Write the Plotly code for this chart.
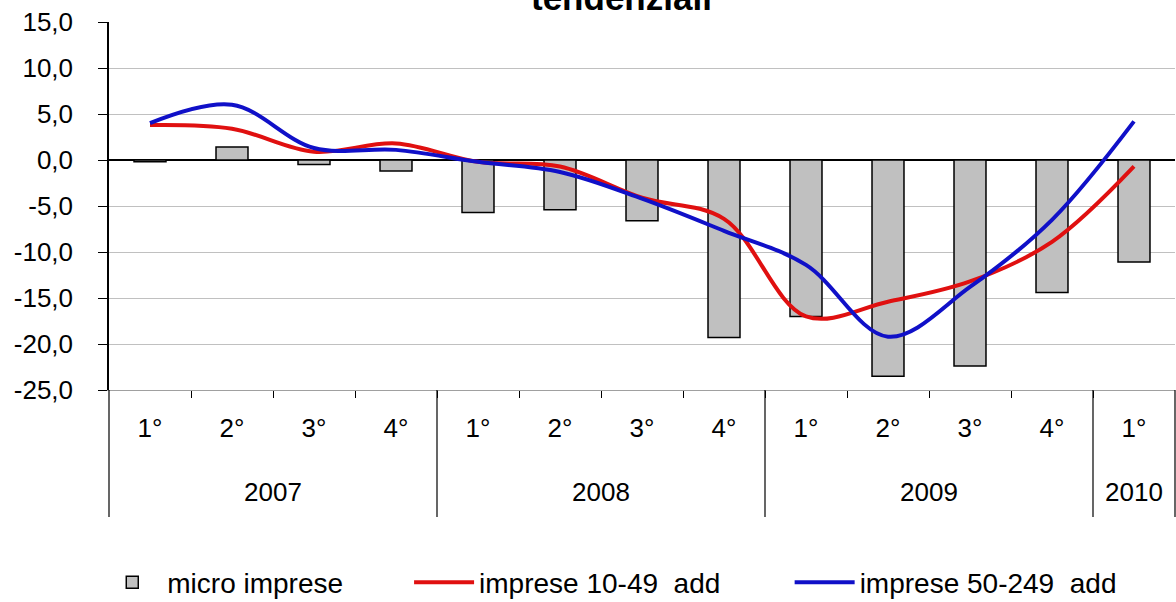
import plotly.graph_objects as go

years = ["2007"] * 4 + ["2008"] * 4 + ["2009"] * 4 + ["2010"]
quarters = ["1°", "2°", "3°", "4°", "1°", "2°", "3°", "4°", "1°", "2°", "3°", "4°", "1°"]

micro = [-0.2, 1.4, -0.5, -1.2, -5.7, -5.4, -6.6, -19.3, -17.0, -23.5, -22.4, -14.4, -11.1]
imp_10_49 = [3.8, 3.4, 0.9, 1.8, -0.2, -0.7, -4.1, -6.4, -17.0, -15.4, -13.2, -8.9, -0.7]
imp_50_249 = [4.0, 6.0, 1.3, 1.1, -0.2, -1.3, -4.2, -7.7, -11.4, -19.2, -13.8, -6.5, 4.2]

y_ticks = [15, 10, 5, 0, -5, -10, -15, -20, -25]
y_ticktext = ["15,0", "10,0", "5,0", "0,0", "-5,0", "-10,0", "-15,0", "-20,0", "-25,0"]

FONT = "Liberation Sans, Arial, sans-serif"
n = len(quarters)
idx = list(range(n))

# year groups (derived from the category arrays)
groups = []
for i, yr in enumerate(years):
    if not groups or groups[-1][0] != yr:
        groups.append([yr, i, i])
    else:
        groups[-1][2] = i

fig = go.Figure()
fig.add_trace(go.Bar(
    x=idx, y=micro, name="micro imprese",
    marker=dict(color="#c0c0c0", line=dict(color="#000000", width=1.5)),
    legend="legend",
))
fig.add_trace(go.Scatter(
    x=idx, y=imp_10_49, name="imprese 10-49  add", mode="lines",
    line=dict(color="#e01010", width=4, shape="spline", smoothing=1.0),
    legend="legend2",
))
fig.add_trace(go.Scatter(
    x=idx, y=imp_50_249, name="imprese 50-249  add", mode="lines",
    line=dict(color="#1010c8", width=4, shape="spline", smoothing=1.0),
    legend="legend3",
))

PLOT_H = 368.0
def py(px_below_axis):
    return -px_below_axis / PLOT_H

annotations = [dict(
    text="<b>tendenziali</b>", xref="x domain", yref="paper",
    x=0.481, y=1.008, xanchor="center", yanchor="bottom", showarrow=False,
    font=dict(family=FONT, size=35, color="#000"),
)]
shapes = []
for yr, a, b in groups:
    annotations.append(dict(
        text=yr, xref="paper", yref="paper", x=((a + b) / 2 + 0.5) / n, y=py(102),
        xanchor="center", yanchor="middle", showarrow=False,
        font=dict(family=FONT, size=26, color="#000"),
    ))
    shapes.append(dict(type="line", xref="paper", yref="paper",
                       x0=a / n, x1=a / n, y0=0, y1=py(127),
                       line=dict(color="#000", width=1.2)))
shapes.append(dict(type="line", xref="paper", yref="paper",
                   x0=1, x1=1, y0=0, y1=py(127),
                   line=dict(color="#000", width=1.2)))

leg_common = dict(orientation="h", yanchor="middle", y=-0.523, xanchor="left",
                  font=dict(family=FONT, size=28, color="#000"),
                  bgcolor="rgba(0,0,0,0)", itemwidth=60)

fig.update_layout(
    width=1176, height=602,
    margin=dict(l=109, r=1, t=22, b=212, autoexpand=False),
    paper_bgcolor="white", plot_bgcolor="white",
    font=dict(family=FONT, size=26, color="#000"),
    bargap=0.61,
    showlegend=True,
    legend=dict(x=-0.011, **leg_common),
    legend2=dict(x=0.2815, **leg_common),
    legend3=dict(x=0.6385, **leg_common),
    xaxis=dict(
        range=[-0.5, n - 0.5], automargin=False,
        tickmode="array", tickvals=idx, ticktext=quarters,
        showline=True, linecolor="#a0a0a0", linewidth=1,
        ticks="", showgrid=False, zeroline=False,
        minor=dict(tickmode="array", tickvals=[i - 0.5 for i in idx[1:]],
                   ticks="outside", ticklen=7, tickcolor="#000", showgrid=False),
        tickfont=dict(family=FONT, size=26, color="#000"),
        ticklabelstandoff=15,
    ),
    yaxis=dict(
        range=[-25, 15], automargin=False,
        tickvals=y_ticks, ticktext=y_ticktext,
        showline=True, linecolor="#000", linewidth=1.5,
        ticks="outside", ticklen=9, tickcolor="#000",
        showgrid=True, gridcolor="#c0c0c0", gridwidth=1,
        zeroline=True, zerolinecolor="#000", zerolinewidth=1.5,
        tickfont=dict(family=FONT, size=26, color="#000"),
        ticklabelstandoff=20,
    ),
    annotations=annotations,
    shapes=shapes,
)

fig.write_html("out.html", config={"displayModeBar": False},
               post_script="document.body.style.margin='0px';")
